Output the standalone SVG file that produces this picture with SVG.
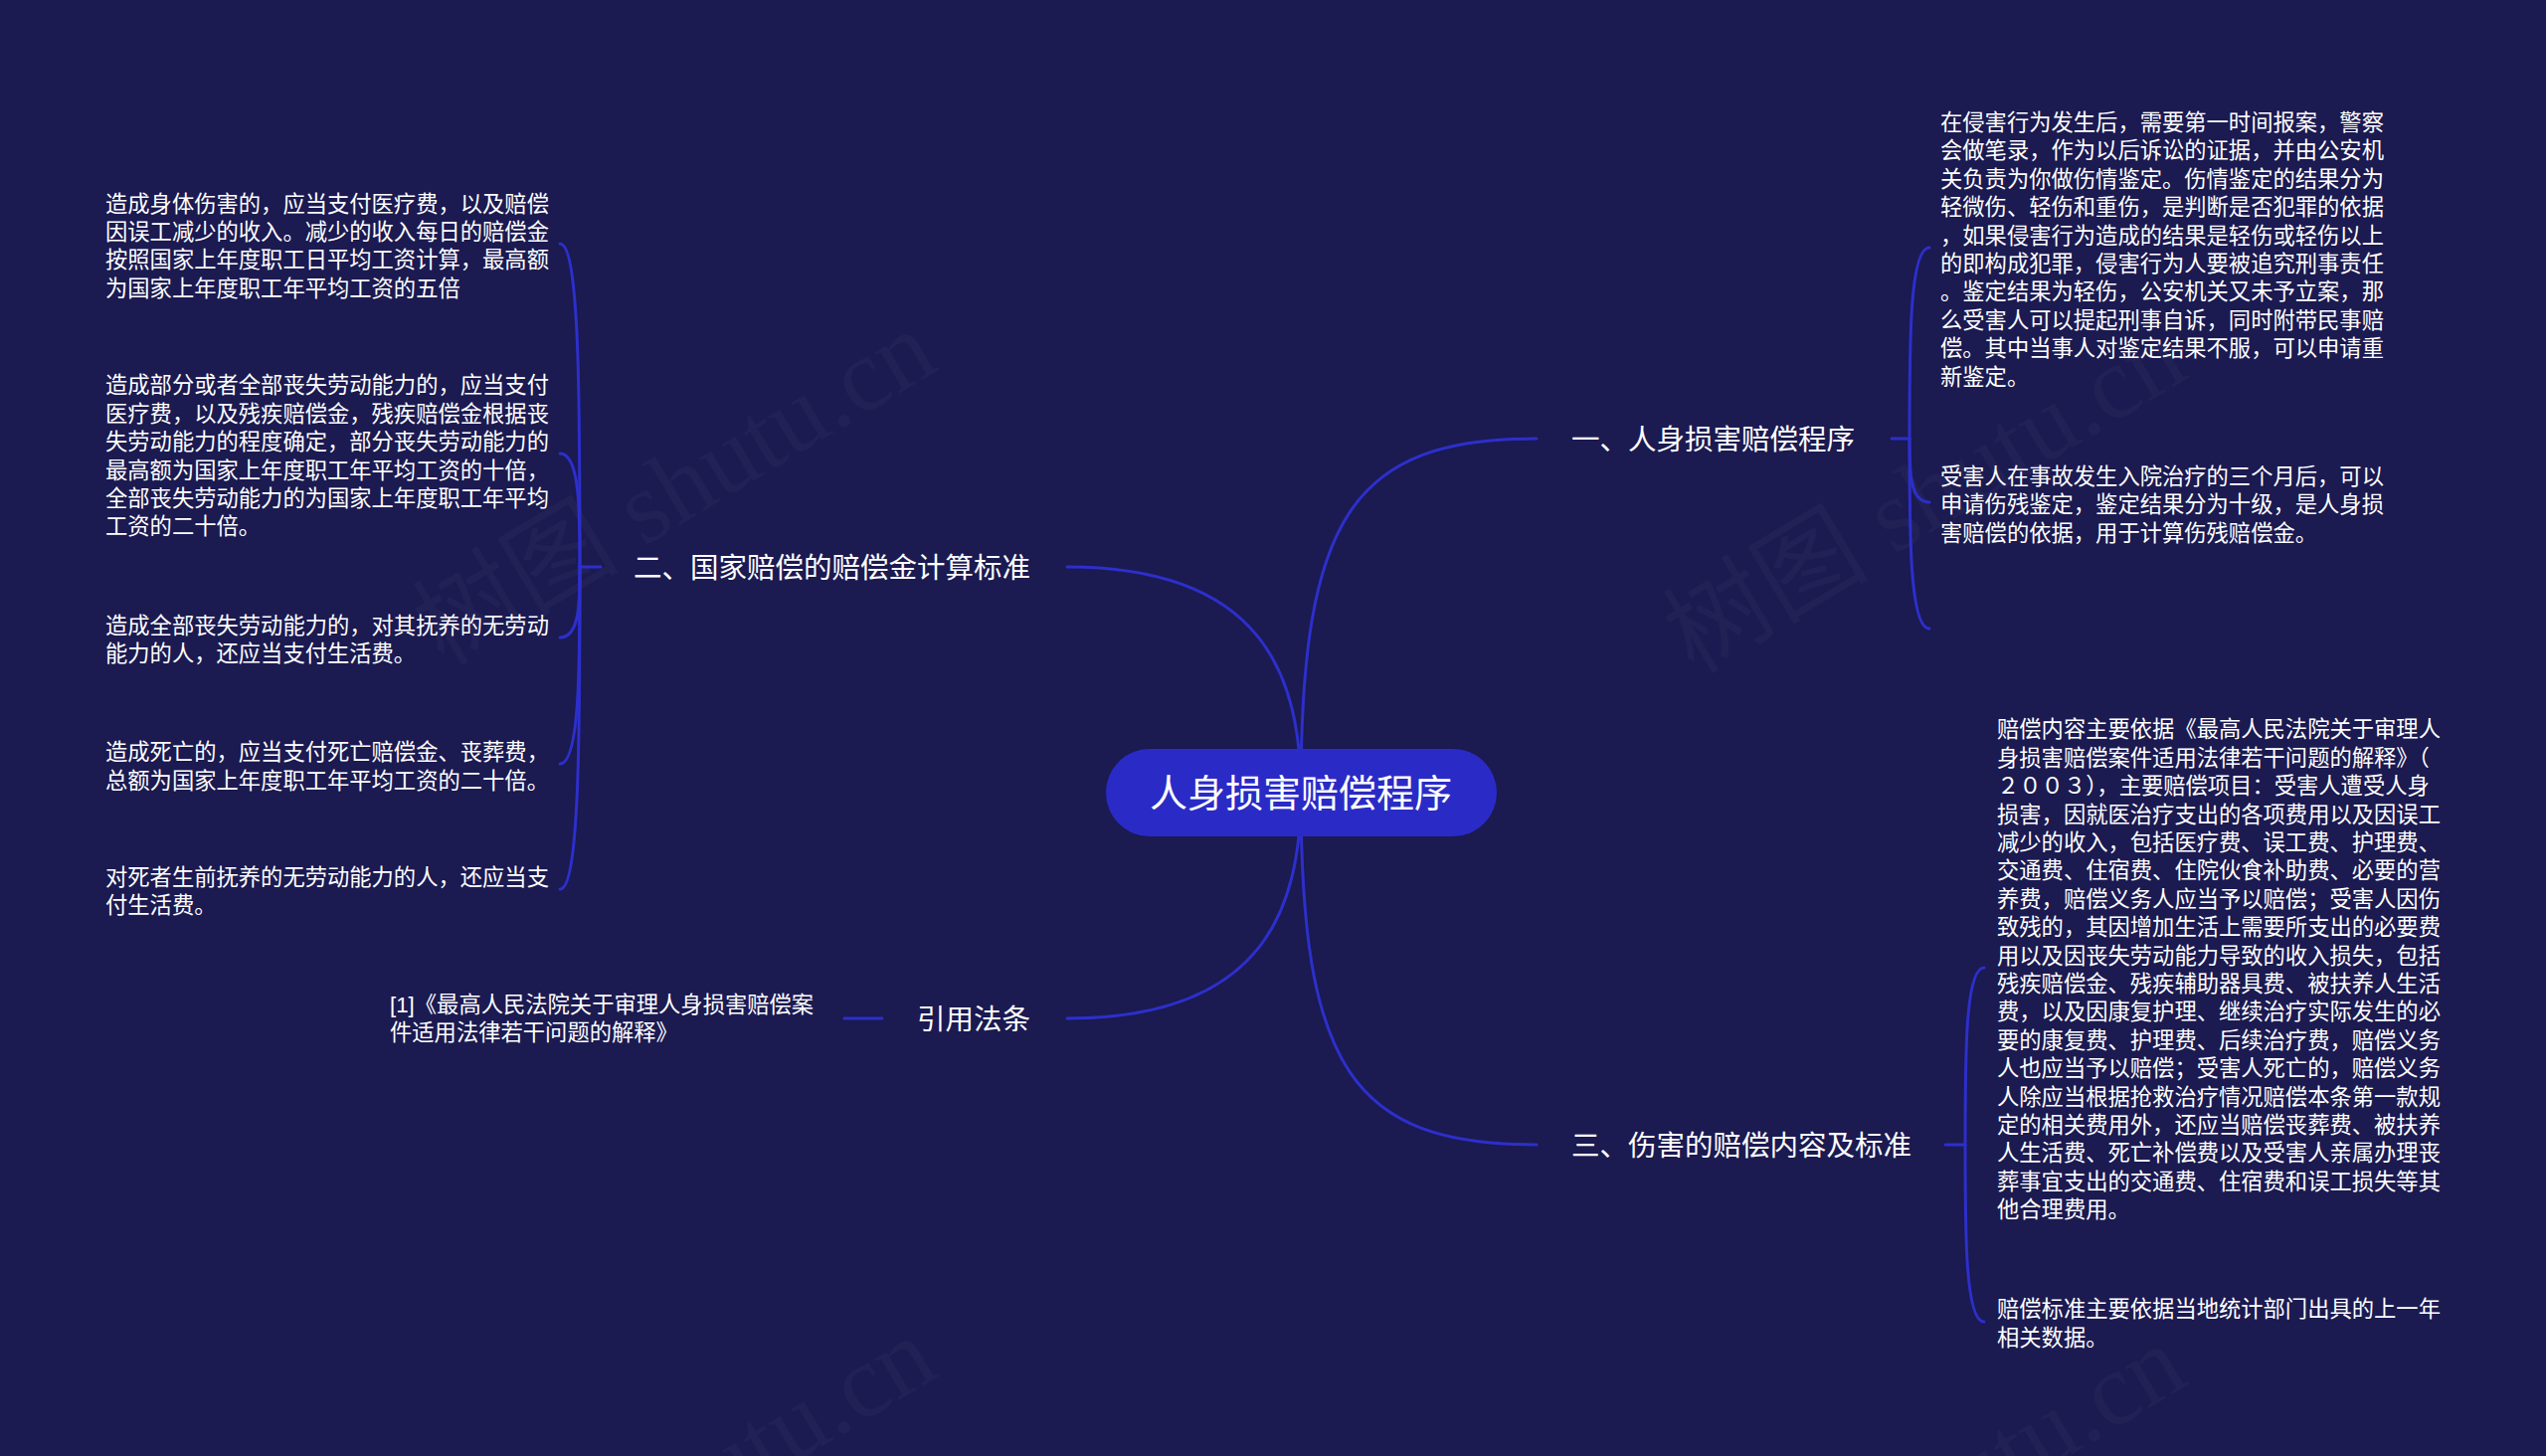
<svg xmlns="http://www.w3.org/2000/svg" width="2560" height="1464" viewBox="0 0 2560 1464">
<defs>
<style>
.bg{fill:#1b1a51}
.wm{font-family:"Liberation Serif","Noto Sans CJK SC",serif;font-size:104px;fill:#ffffff;fill-opacity:0.03}
.conn path,.conn line{fill:none;stroke:#2d2fcb;stroke-width:3;stroke-linecap:round}
.root rect{fill:#2a2bc6}
.root text{font-family:"Noto Sans CJK SC","Noto Sans",sans-serif;font-size:38px;fill:#ffffff;text-anchor:middle;dominant-baseline:central}
.lbl{font-family:"Noto Sans CJK SC","Noto Sans",sans-serif;font-size:28.5px;fill:#ffffff;dominant-baseline:central}
.txt{font-family:"Noto Sans CJK SC","Noto Sans",sans-serif;font-size:22.3px;fill:#ffffff;dominant-baseline:central}
.ref{font-family:"Liberation Sans","Noto Sans CJK SC",sans-serif;font-size:22.3px;fill:#ffffff;dominant-baseline:central}
</style>
</defs>
<rect class="bg" x="0" y="0" width="2560" height="1464"/>

<g id="watermarks">
<text class="wm" transform="translate(678,490) rotate(-31)" text-anchor="middle" dominant-baseline="central">树图 shutu.cn</text>
<text class="wm" transform="translate(1935,498) rotate(-31)" text-anchor="middle" dominant-baseline="central">树图 shutu.cn</text>
<text class="wm" transform="translate(678,1502) rotate(-31)" text-anchor="middle" dominant-baseline="central">树图 shutu.cn</text>
<text class="wm" transform="translate(1935,1510) rotate(-31)" text-anchor="middle" dominant-baseline="central">树图 shutu.cn</text>
</g>

<g id="connectors" class="conn">
<path d="M1308,797 C1308,520 1360,441 1545,441"/>
<path d="M1308,797 C1308,680 1270,570 1073,570"/>
<path d="M1308,797 C1308,914 1270,1024 1073,1024"/>
<path d="M1308,797 C1308,1074 1360,1151 1545,1151"/>
<line x1="1902" y1="441" x2="1920" y2="441"/>
<path d="M1920,441 C1920,345 1920,249 1940,249"/>
<path d="M1920,441 C1920,473 1920,505 1940,505"/>
<path d="M1920,441 C1920,536 1920,632 1940,632"/>
<line x1="604" y1="570" x2="583" y2="570"/>
<path d="M583,570 C583,407 583,245 563,245"/>
<path d="M583,570 C583,513 583,456 563,456"/>
<path d="M583,570 C583,605 583,641 563,641"/>
<path d="M583,570 C583,669 583,768 563,768"/>
<path d="M583,570 C583,732 583,894 563,894"/>
<line x1="887" y1="1024" x2="849" y2="1024"/>
<line x1="1956" y1="1151" x2="1976" y2="1151"/>
<path d="M1976,1151 C1976,1062 1976,973 1995,973"/>
<path d="M1976,1151 C1976,1240 1976,1329 1995,1329"/>
</g>

<g id="root" class="root">
<rect x="1112" y="753" width="393" height="88" rx="44"/>
<text x="1308" y="794">人身损害赔偿程序</text>
</g>

<g id="n1">
<text class="lbl" x="1580" y="439">一、人身损害赔偿程序</text>
</g>
<g id="n1-1">
<text class="txt"><tspan x="1951" y="121">在侵害行为发生后，需要第一时间报案，警察</tspan><tspan x="1951" y="149.4">会做笔录，作为以后诉讼的证据，并由公安机</tspan><tspan x="1951" y="177.8">关负责为你做伤情鉴定。伤情鉴定的结果分为</tspan><tspan x="1951" y="206.2">轻微伤、轻伤和重伤，是判断是否犯罪的依据</tspan><tspan x="1951" y="234.6">，如果侵害行为造成的结果是轻伤或轻伤以上</tspan><tspan x="1951" y="263">的即构成犯罪，侵害行为人要被追究刑事责任</tspan><tspan x="1951" y="291.4">。鉴定结果为轻伤，公安机关又未予立案，那</tspan><tspan x="1951" y="319.8">么受害人可以提起刑事自诉，同时附带民事赔</tspan><tspan x="1951" y="348.2">偿。其中当事人对鉴定结果不服，可以申请重</tspan><tspan x="1951" y="376.6">新鉴定。</tspan></text>
</g>
<g id="n1-2">
<text class="txt"><tspan x="1951" y="477">受害人在事故发生入院治疗的三个月后，可以</tspan><tspan x="1951" y="505.4">申请伤残鉴定，鉴定结果分为十级，是人身损</tspan><tspan x="1951" y="533.8">害赔偿的依据，用于计算伤残赔偿金。</tspan></text>
</g>

<g id="n2">
<text class="lbl" x="637" y="568">二、国家赔偿的赔偿金计算标准</text>
</g>
<g id="n2-1">
<text class="txt"><tspan x="106" y="202.5">造成身体伤害的，应当支付医疗费，以及赔偿</tspan><tspan x="106" y="230.9">因误工减少的收入。减少的收入每日的赔偿金</tspan><tspan x="106" y="259.3">按照国家上年度职工日平均工资计算，最高额</tspan><tspan x="106" y="287.7">为国家上年度职工年平均工资的五倍</tspan></text>
</g>
<g id="n2-2">
<text class="txt"><tspan x="106" y="385.3">造成部分或者全部丧失劳动能力的，应当支付</tspan><tspan x="106" y="413.7">医疗费，以及残疾赔偿金，残疾赔偿金根据丧</tspan><tspan x="106" y="442.1">失劳动能力的程度确定，部分丧失劳动能力的</tspan><tspan x="106" y="470.5">最高额为国家上年度职工年平均工资的十倍，</tspan><tspan x="106" y="498.9">全部丧失劳动能力的为国家上年度职工年平均</tspan><tspan x="106" y="527.3">工资的二十倍。</tspan></text>
</g>
<g id="n2-3">
<text class="txt"><tspan x="106" y="627">造成全部丧失劳动能力的，对其抚养的无劳动</tspan><tspan x="106" y="655.4">能力的人，还应当支付生活费。</tspan></text>
</g>
<g id="n2-4">
<text class="txt"><tspan x="106" y="754.3">造成死亡的，应当支付死亡赔偿金、丧葬费，</tspan><tspan x="106" y="782.7">总额为国家上年度职工年平均工资的二十倍。</tspan></text>
</g>
<g id="n2-5">
<text class="txt"><tspan x="106" y="880">对死者生前抚养的无劳动能力的人，还应当支</tspan><tspan x="106" y="908.4">付生活费。</tspan></text>
</g>

<g id="n3">
<text class="lbl" x="922" y="1022">引用法条</text>
</g>
<g id="n3-1">
<text class="ref"><tspan x="392" y="1009.5">[1]《最高人民法院关于审理人身损害赔偿案</tspan><tspan x="392" y="1037.9">件适用法律若干问题的解释》</tspan></text>
</g>

<g id="n4">
<text class="lbl" x="1580" y="1149">三、伤害的赔偿内容及标准</text>
</g>
<g id="n4-1">
<text class="txt"><tspan x="2008" y="731.4">赔偿内容主要依据《最高人民法院关于审理人</tspan><tspan x="2008" y="759.8">身损害赔偿案件适用法律若干问题的解释》（</tspan><tspan x="2008" y="788.2">２００３），主要赔偿项目：受害人遭受人身</tspan><tspan x="2008" y="816.6">损害，因就医治疗支出的各项费用以及因误工</tspan><tspan x="2008" y="845">减少的收入，包括医疗费、误工费、护理费、</tspan><tspan x="2008" y="873.4">交通费、住宿费、住院伙食补助费、必要的营</tspan><tspan x="2008" y="901.8">养费，赔偿义务人应当予以赔偿；受害人因伤</tspan><tspan x="2008" y="930.2">致残的，其因增加生活上需要所支出的必要费</tspan><tspan x="2008" y="958.6">用以及因丧失劳动能力导致的收入损失，包括</tspan><tspan x="2008" y="987">残疾赔偿金、残疾辅助器具费、被扶养人生活</tspan><tspan x="2008" y="1015.4">费，以及因康复护理、继续治疗实际发生的必</tspan><tspan x="2008" y="1043.8">要的康复费、护理费、后续治疗费，赔偿义务</tspan><tspan x="2008" y="1072.2">人也应当予以赔偿；受害人死亡的，赔偿义务</tspan><tspan x="2008" y="1100.6">人除应当根据抢救治疗情况赔偿本条第一款规</tspan><tspan x="2008" y="1129">定的相关费用外，还应当赔偿丧葬费、被扶养</tspan><tspan x="2008" y="1157.4">人生活费、死亡补偿费以及受害人亲属办理丧</tspan><tspan x="2008" y="1185.8">葬事宜支出的交通费、住宿费和误工损失等其</tspan><tspan x="2008" y="1214.2">他合理费用。</tspan></text>
</g>
<g id="n4-2">
<text class="txt"><tspan x="2008" y="1314.3">赔偿标准主要依据当地统计部门出具的上一年</tspan><tspan x="2008" y="1342.7">相关数据。</tspan></text>
</g>
</svg>
